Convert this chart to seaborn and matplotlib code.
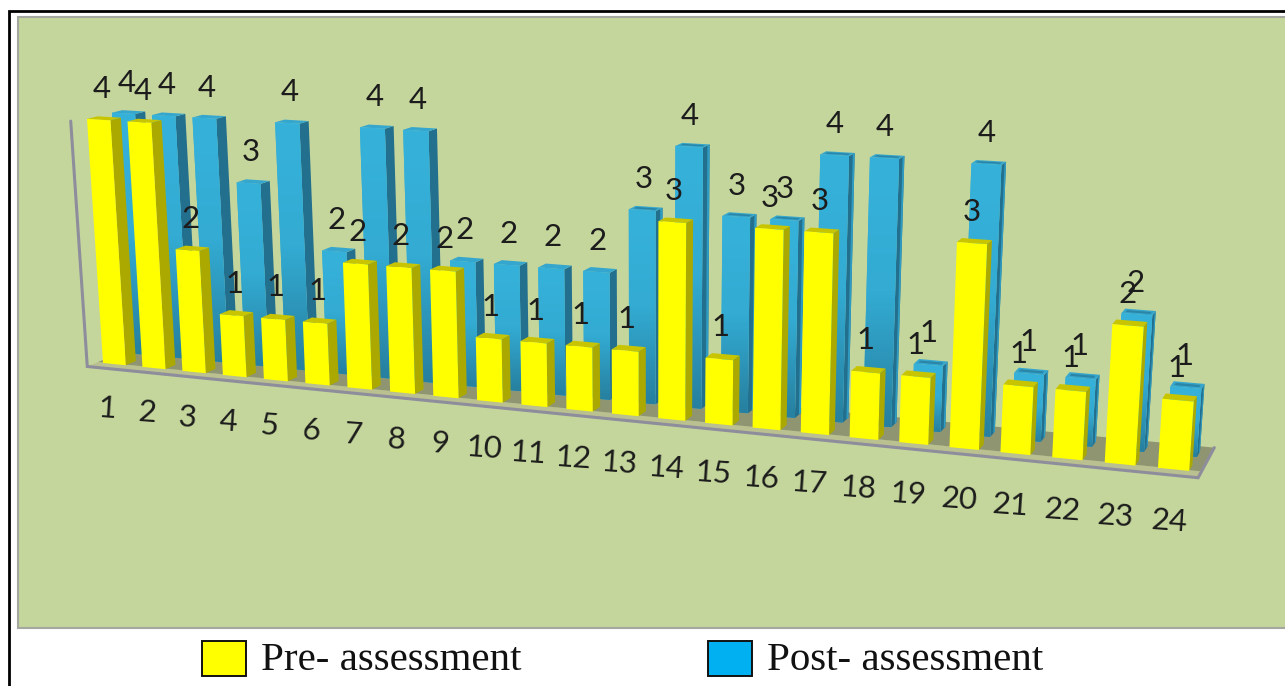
import numpy as np
import pandas as pd
import matplotlib
matplotlib.use("Agg")
import matplotlib.pyplot as plt
from matplotlib.colors import LinearSegmentedColormap
from matplotlib.patches import Polygon, Rectangle
from matplotlib.transforms import Transform
import seaborn as sns

# Assessment scores per item
items = [str(i) for i in range(1, 25)]
pre_scores = [4, 4, 2, 1, 1, 1, 2, 2, 2, 1, 1, 1, 1, 3, 1, 3, 3, 1, 1, 3, 1, 1, 2, 1]
post_scores = [4, 4, 4, 3, 4, 2, 4, 4, 2, 2, 2, 2, 3, 4, 3, 3, 4, 4, 1, 4, 1, 1, 2, 1]
series_names = ["Post- assessment", "Pre- assessment"]

# Look of the bars
BAR_WIDTH = 0.58
BAR_DEPTH = 0.42
PRE_PLANE = 0.0
POST_PLANE = 1.0
PANEL = "#C4D69C"
TEXT = "#1c1c1c"
EDGE = "#8E8D9C"

# Homogeneous camera matrix: columns are item axis, depth axis, height axis, origin
CAMERA = np.array([
    [38.55, 26.08, -4.62, 103.0],
    [1.60, -4.22, -61.86, 363.0],
    [-0.00632, 0.01637, -0.00711, 1.0],
])


def project(x, depth, z):
    """Map item position, depth plane and score height to canvas pixels."""
    x, depth, z = np.broadcast_arrays(np.asarray(x, float), np.asarray(depth, float), np.asarray(z, float))
    world = np.stack([x + BAR_WIDTH / 2, depth, z, np.ones_like(x)])
    sx, sy, w = CAMERA @ world.reshape(4, -1)
    return np.column_stack([sx / w, sy / w])


class PlaneProjection(Transform):
    """Projects the flat (item, score) plane of a bar series onto the canvas."""
    input_dims = 2
    output_dims = 2
    is_separable = False

    def __init__(self, plane):
        super().__init__()
        self.plane = plane

    def transform_non_affine(self, values):
        values = np.asarray(values, float)
        return project(values[:, 0], self.plane, values[:, 1])


plt.rcdefaults()
sns.set_style("white")
plt.rcParams["font.family"] = ["Lato", "DejaVu Sans"]

fig = plt.figure(figsize=(12.85, 6.86), dpi=100, facecolor="white")
ax = fig.add_axes([0, 0, 1, 1])

table = pd.DataFrame({
    "item": items * 2,
    "score": post_scores + pre_scores,
    "assessment": [series_names[0]] * len(items) + [series_names[1]] * len(items),
})
sns.barplot(
    data=table, x="item", y="score", hue="assessment", order=items, hue_order=series_names,
    palette=["#34AFD8", "#FFFF00"], dodge=False, width=BAR_WIDTH, saturation=1,
    linewidth=0, errorbar=None, legend=False, ax=ax,
)
post_bars, pre_bars = ax.containers


def face(corners, color, zorder):
    ax.add_patch(Polygon(corners, closed=True, facecolor=color, edgecolor="none", zorder=zorder))


# Chart frame and panel
ax.add_patch(Rectangle((9, 11), 1300, 700, facecolor="white", edgecolor="black", linewidth=2, zorder=0.1))
ax.add_patch(Rectangle((18, 17), 1300, 611, facecolor=PANEL, edgecolor="#a5a8a0", linewidth=1.5, zorder=0.2))

# Floor and wall edge
x_lo, x_hi = -0.44, 23.51
y_front, y_split, y_back = -0.40, 0.05, 1.80
floor_front = project([x_lo, x_hi, x_hi, x_lo], [y_front, y_front, y_split, y_split], 0)
floor_back = project([x_lo, x_hi, x_hi, x_lo], [y_split, y_split, y_back, y_back], 0)
face(floor_front, "#BAC08F", 0.5)
face(floor_back, "#8F9571", 0.5)
outline = project([x_lo, x_lo, x_hi, x_hi], [y_front, y_front, y_front, y_back], [4, 0, 0, 0])
ax.plot(outline[:, 0], outline[:, 1], color=EDGE, linewidth=2.2, zorder=0.6, solid_joinstyle="miter")

blue_ramp = LinearSegmentedColormap.from_list("front_ramp", ["#36B2DA", "#33ABD3", "#27809F"])


def extrude(bar, plane, side, top, zorder, outer=None, inset=None):
    """Add the visible side and top faces behind one bar's front face."""
    x0, x1 = bar.get_x(), bar.get_x() + bar.get_width()
    h = bar.get_height()
    far = plane + BAR_DEPTH
    face(project([x1, x1, x1, x1], [plane, far, far, plane], [0, 0, h, h]), side, zorder)
    if outer is not None:
        near = plane + BAR_DEPTH * 0.66
        face(project([x1, x1, x1, x1], [near, far, far, near], [0, 0, h, h]), outer, zorder)
    face(project([x0, x1, x1, x0], [plane, plane, far, far], h), top, zorder)
    if inset is not None:
        pad = BAR_WIDTH * 0.1
        a, b = plane + BAR_DEPTH * 0.3, plane + BAR_DEPTH * 0.72
        face(project([x0 + pad, x1 - pad, x1 - pad, x0 + pad], [a, a, b, b], h), inset, zorder)


# Back series: shaded blue columns; the far edge of the side face catches light toward the right
post_plane = PlaneProjection(POST_PLANE)
for k, bar in enumerate(post_bars):
    rim = "#2F9CC3" if k >= 12 else None
    extrude(bar, POST_PLANE, "#236F8E", "#35A6CD", 2 + k * 0.01, outer=rim,
            inset="#2A85A6" if k >= 12 else None)
    bar.set_transform(post_plane + ax.transData)
    bar.set_zorder(2.5 + k * 0.01)
    x0, x1 = bar.get_x(), bar.get_x() + bar.get_width()
    box = project([x0, x1, x1, x0], POST_PLANE, [0, 0, bar.get_height(), bar.get_height()])
    ramp = ax.imshow(
        np.linspace(0, 1, 64).reshape(-1, 1), cmap=blue_ramp, aspect="auto", zorder=2.6 + k * 0.01,
        extent=(box[:, 0].min(), box[:, 0].max(), box[:, 1].max(), box[:, 1].min()),
        interpolation="bilinear", origin="upper",
    )
    ramp.set_clip_path(bar.get_path(), bar.get_transform())

# Front series: flat yellow columns
pre_plane = PlaneProjection(PRE_PLANE)
for k, bar in enumerate(pre_bars):
    extrude(bar, PRE_PLANE, "#ABA900", "#C8C500", 4 + k * 0.01)
    bar.set_transform(pre_plane + ax.transData)
    bar.set_zorder(4.5 + k * 0.01)

# Score labels above each column
positions = np.arange(len(items))
for scores, plane, z in ((post_scores, POST_PLANE, 3.5), (pre_scores, PRE_PLANE, 5.5)):
    anchors = project(positions, plane + 0.25, np.asarray(scores))
    for (px, py), score in zip(anchors, scores):
        ax.text(px - 3, py - 29, str(score), ha="center", va="center", fontsize=22.5,
                color=TEXT, zorder=z + 2)

# Item labels along the floor edge
ticks = project(positions, -0.47, -0.65)
for (px, py), label in zip(ticks, items):
    ax.text(px + 2, py + 1, label, ha="center", va="center", fontsize=22.5, color=TEXT,
            rotation=-4, rotation_mode="anchor", zorder=8)

# Legend strip below the panel
legend_rows = [("#FFFF00", series_names[1], 202, 261), ("#00B0F0", series_names[0], 708, 767)]
for color, label, swatch_x, text_x in legend_rows:
    ax.add_patch(Rectangle((swatch_x, 641), 44, 35, facecolor=color, edgecolor="#111111", linewidth=1.4, zorder=6))
    ax.text(text_x, 661, label, family="Liberation Serif", fontsize=29.5, color="#111111",
            ha="left", va="center", zorder=6)

ax.set_xlim(0, 1285)
ax.set_ylim(686, 0)
ax.axis("off")
fig.savefig("out.png", dpi=100, facecolor="white")
